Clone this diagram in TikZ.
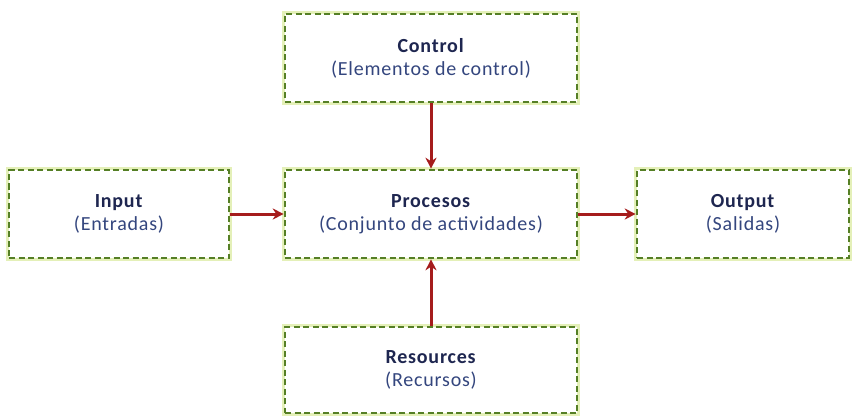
\documentclass[tikz,border=0pt]{standalone}
\usepackage{fontspec}
\setmainfont{Carlito}[LetterSpace=4]
\usetikzlibrary{arrows.meta}
\definecolor{boxgreen}{HTML}{557F25}
\definecolor{glow}{HTML}{E4F0B8}
\definecolor{titlecol}{HTML}{1E2650}
\definecolor{subcol}{HTML}{34467E}
\definecolor{arrowred}{HTML}{A51C1C}
\tikzset{
  x=1pt,y=-1pt,
  boxnode/.style={draw=boxgreen, line width=2.6pt, dash pattern=on 6pt off 3.5pt,
     fill=white, align=center, inner sep=0pt, text=titlecol,
     font=\fontsize{20}{23}\selectfont,
     preaction={draw=glow, line width=5.5pt, solid}},
  flow/.style={draw=arrowred, line width=3pt, -{Stealth[length=11pt,width=11pt]}},
}
\newcommand{\boxtext}[2]{\textbf{#1}\\\textcolor{subcol}{#2}}
\begin{document}
\begin{tikzpicture}
\useasboundingbox[fill=white] (0,0) rectangle (857,417);
\node[boxnode, minimum width=292pt, minimum height=88pt] (control) at (431,58) {\boxtext{Control}{(Elementos de control)}};
\node[boxnode, minimum width=220pt, minimum height=88pt] (input) at (119,214) {\boxtext{Input}{(Entradas)}};
\node[boxnode, minimum width=292pt, minimum height=88pt] (proc) at (431,214) {\boxtext{Procesos}{(Conjunto de actividades)}};
\node[boxnode, minimum width=212pt, minimum height=88pt] (output) at (743,214) {\boxtext{Output}{(Salidas)}};
\node[boxnode, minimum width=292pt, minimum height=86pt] (res) at (431,370) {\boxtext{Resources}{(Recursos)}};
\draw[flow] (control.south) -- (proc.north);
\draw[flow] (input.east) -- (proc.west);
\draw[flow] (proc.east) -- (output.west);
\draw[flow] (res.north) -- (proc.south);
\end{tikzpicture}
\end{document}
